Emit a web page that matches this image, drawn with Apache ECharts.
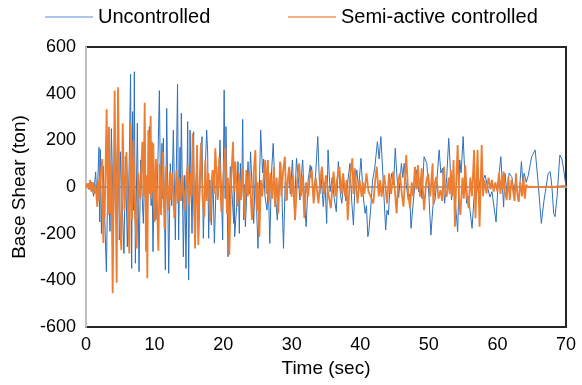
<!DOCTYPE html>
<html>
<head>
<meta charset="utf-8">
<script src="https://cdn.jsdelivr.net/npm/echarts@6/dist/echarts.min.js"></script>
<style>
  html, body { margin: 0; padding: 0; background: #fff; }
  #chart { width: 582px; height: 385px; }
</style>
</head>
<body>
<div id="chart"></div>
<script>
// time (sec) and base shear (ton)
const uncontrolledTime = [
  0, 0.3, 0.5, 0.8, 1.1, 1.41, 1.6, 1.9, 2.0, 2.1, 2.25, 2.5, 2.97, 3.2, 3.5, 3.7, 4.0, 4.3, 4.6, 4.75,
  4.86, 5.0, 5.25, 5.54, 5.74, 6.03, 6.3, 6.5, 6.66, 6.8, 6.92, 7.05, 7.2, 7.49, 7.73, 7.97, 8.36, 8.6, 8.9, 9.24,
  9.5, 9.62, 9.77, 9.95, 10.2, 10.45, 10.7, 10.9, 11.08, 11.2, 11.28, 11.4, 11.57, 11.77, 12.06, 12.3, 12.5, 12.74, 13.03, 13.35,
  13.51, 13.71, 13.8, 13.9, 14.2, 14.4, 14.58, 14.83, 14.97, 15.17, 15.46, 15.7, 15.8, 16.1, 16.4, 16.7, 16.92, 17.11, 17.35, 17.6,
  17.74, 17.89, 18.05, 18.28, 18.5, 18.72, 19.05, 19.3, 19.54, 19.93, 20.15, 20.3, 20.42, 20.71, 21.05, 21.3, 21.54, 21.62, 21.68, 21.97,
  22.17, 22.36, 22.51, 22.7, 22.85, 23.0, 23.12, 23.24, 23.63, 23.8, 24.0, 24.45, 24.7, 25.08, 25.47, 25.75, 25.9, 26.1, 26.4, 26.6,
  26.8, 27.05, 27.3, 27.6, 27.9, 28.2, 28.4, 28.6, 28.8, 29.05, 29.3, 29.55, 29.8, 30.1, 30.4, 30.7, 31.0, 31.2, 31.4, 31.6,
  31.85, 32.1, 32.4, 32.7, 32.8, 32.9, 33.2, 33.5, 33.8, 34.1, 34.3, 34.6, 34.85, 35.1, 35.3, 35.6, 35.9, 36.2, 36.5, 36.8,
  37.1, 37.3, 37.6, 37.9, 38.2, 38.5, 38.75, 39.0, 39.25, 39.5, 39.75, 40.1, 40.4, 40.7, 40.9, 41.1, 41.25, 41.5, 41.8, 42.1,
  42.5, 42.75, 43.0, 43.3, 43.7, 43.9, 44.1, 44.35, 44.6, 44.85, 45.1, 45.35, 45.6, 45.8, 46.0, 46.2, 46.4, 46.7, 47.0, 47.2,
  47.4, 47.8, 48.2, 48.5, 48.8, 49.0, 49.3, 49.7, 50.0, 50.3, 50.6, 50.9, 51.2, 51.5, 51.75, 52.0, 52.3, 52.6, 52.9, 53.1,
  53.3, 53.6, 53.9, 54.2, 54.5, 54.7, 55.0, 55.25, 55.5, 55.8, 56.0, 56.3, 56.6, 56.9, 57.2, 57.6, 57.9, 58.2, 58.55, 58.9,
  59.2, 59.8, 60.1, 60.5, 60.9, 61.1, 61.4, 61.7, 62.1, 62.4, 62.7, 63.1, 63.5, 63.7, 63.9, 64.2, 64.5, 64.8, 65.0, 65.5,
  65.9, 66.2, 66.4, 66.6, 66.8, 67.1, 67.4, 67.7, 67.95, 68.2, 68.4, 68.7, 69.1, 69.4, 69.6, 70
];
const uncontrolledShear = [
  0, 15, -10, 20, -40, 65, -60, 170, -150, 160, -200, 90, -363, 60, -190, 250, -150, 200, -100, 120,
  -227, 151, -50, -285, 130, -256, 100, 484, -349, 323, -100, 494, -327, 273, -363, 116, -156, 120, -200, 259,
  -80, 90, -277, 40, -140, 60, 413, -100, 187, -50, 209, -10, -355, 337, -370, 100, -80, 244, -227, 440,
  -227, 170, -50, 316, -299, 50, -349, 280, -399, 244, -199, 237, -127, 60, -220, 80, 216, -220, 50, 244,
  150, -220, 30, -163, 60, -241, 86, -40, 201, -227, 416, -50, 259, -299, 87, -30, -156, 20, -213, -84,
  109, -199, 101, -40, 290, -141, 10, -170, 109, -30, 151, -156, 60, -263, 244, 60, 120, -40, -99, 10,
  -242, 60, 187, -30, -142, 40, 100, -60, -263, 20, -56, 80, -30, 116, -90, 123, 20, -56, 40, 116,
  -50, -170, 30, 94, 40, 87, -50, 60, 216, -30, 40, -84, 20, -156, 159, -20, 40, -50, -106, 109,
  -30, -70, 20, -60, 30, 101, -60, -163, 20, 73, -10, 123, -30, -113, -80, -213, -190, -100, 30, 80,
  194, 120, 216, 50, -184, -100, -120, 10, 59, 10, 166, 40, -45, 30, 101, 40, 101, 10, -56, -30,
  -177, -40, 73, -20, 40, -50, 130, 101, -30, -206, -80, -56, 40, 159, 60, 80, -70, 40, 209, 100,
  -56, 30, -80, -191, 116, 60, 216, 50, -70, -40, -100, -177, -40, 30, -20, 50, 30, 51, 0, -43,
  -20, -150, 20, 130, -86, 59, -30, 60, 44, -20, 30, -64, 109, 20, 59, 20, 50, 100, 130, 159,
  30, -80, -156, -150, -56, 0, 59, 66, 0, -113, -127, -40, 137, 120, 87, 0
];

const controlledTime = [
  0, 0.2, 0.4, 0.6, 0.78, 1.0, 1.2, 1.4, 1.65, 1.8, 1.9, 2.1, 2.38, 2.53, 2.62, 2.72, 3.01, 3.2, 3.35, 3.5,
  3.7, 3.89, 4.18, 4.47, 4.67, 4.9, 5.15, 5.35, 5.6, 5.9, 6.32, 6.51, 6.7, 6.9, 7.1, 7.39, 7.6, 7.9, 8.22, 8.4,
  8.56, 8.75, 8.85, 8.94, 9.09, 9.25, 9.43, 9.52, 9.62, 9.72, 9.82, 10.0, 10.2, 10.35, 10.55, 10.75, 10.95, 11.2, 11.45, 11.7,
  11.95, 12.25, 12.35, 12.6, 12.88, 13.22, 13.37, 13.6, 13.85, 14.1, 14.34, 14.6, 14.83, 15.05, 15.26, 15.4, 15.56, 15.9, 16.19, 16.38,
  16.6, 16.77, 17.0, 17.26, 17.4, 17.6, 17.85, 18.13, 18.3, 18.47, 18.65, 18.86, 19.2, 19.44, 19.74, 20.0, 20.32, 20.56, 20.7, 20.9,
  21.15, 21.44, 21.6, 21.78, 22.07, 22.3, 22.6, 22.85, 23.14, 23.38, 23.6, 23.82, 24.0, 24.2, 24.45, 24.7, 24.89, 25.05, 25.28, 25.5,
  25.7, 25.9, 26.15, 26.35, 26.54, 26.64, 26.9, 27.15, 27.4, 27.57, 27.8, 28.05, 28.3, 28.5, 28.75, 29.0, 29.2, 29.45, 29.65, 29.99,
  30.2, 30.48, 30.8, 31.1, 31.35, 31.6, 31.84, 32.1, 32.4, 32.65, 32.9, 33.2, 33.5, 33.9, 34.15, 34.4, 34.7, 35.0, 35.3, 35.7,
  36.1, 36.4, 36.6, 36.95, 37.25, 37.5, 37.8, 38.0, 38.16, 38.5, 38.84, 39.0, 39.2, 39.6, 39.9, 40.2, 40.4, 40.6, 40.9, 41.2,
  41.5, 41.9, 42.15, 42.4, 42.7, 42.9, 43.1, 43.5, 43.9, 44.2, 44.5, 44.8, 45.05, 45.3, 45.55, 45.8, 46.05, 46.3, 46.7, 47.0,
  47.25, 47.5, 47.7, 47.97, 48.2, 48.4, 48.7, 48.95, 49.3, 49.6, 49.9, 50.2, 50.55, 50.65, 50.9, 51.1, 51.4, 51.7, 51.95, 52.2,
  52.4, 52.6, 52.9, 53.05, 53.2, 53.4, 53.6, 53.8, 54.0, 54.2, 54.4, 54.6, 54.9, 55.1, 55.3, 55.55, 55.8, 56.05, 56.3, 56.6,
  56.8, 57.1, 57.4, 57.7, 57.9, 58.1, 58.4, 58.7, 59.0, 59.2, 59.45, 59.7, 60.0, 60.2, 60.45, 60.65, 60.78, 60.9, 61.1, 61.35,
  61.6, 61.8, 62.05, 62.3, 62.5, 62.7, 62.9, 63.1, 63.35, 63.6, 63.8, 64.0, 64.2, 64.4, 65, 66, 67, 68, 69, 70
];
const controlledShear = [
  0, 15, -10, 30, -20, 20, -30, 10, -85, 30, -60, 40, 120, -240, -20, -130, 333, -120, 258, -113,
  100, -455, 413, -410, 427, -100, -270, 273, -100, 150, -285, 273, -141, 200, -80, -263, 60, -50, 194, -40,
  361, -277, 50, -391, 244, -30, 304, -50, 194, -20, 187, -150, 120, -60, -273, 100, -120, 150, -180, 90,
  -100, 66, -56, 60, -134, 73, -70, 40, -60, 50, -99, 20, 94, -80, 59, -40, 230, -263, 180, -249,
  50, 190, -50, -127, 116, -60, 60, -149, 20, 73, -30, 166, -56, 130, -106, 30, 170, -113, 40, -291,
  20, 194, -20, 109, -84, 60, -56, 80, -134, 73, -40, 66, -30, -141, 60, 158, -99, 20, -213, 30,
  -40, 37, 116, -30, 116, -70, 60, -50, 87, -86, 40, -113, 109, -40, 70, 130, -60, 40, 87, -42,
  50, -142, 30, 101, -40, 50, -134, 20, -40, 50, 73, -70, 40, -70, 20, 87, -30, 50, -20, -91,
  66, -40, 30, 87, -30, 59, -40, 30, -142, 40, 123, -30, 80, -70, 30, -42, 20, -30, 59, -20,
  -40, -70, 20, 87, -40, 30, -42, 51, -70, 59, -30, 66, -20, -113, 30, 59, -30, -84, 137, -30,
  -91, 20, -40, 87, -10, 94, -42, 80, -99, 20, 59, -40, 101, -77, 20, 44, -50, -13, -60, 87,
  -20, -42, 40, -30, 73, -40, 116, -170, 30, 180, -50, -120, 40, -50, 94, -30, -91, 40, -40, 159,
  -134, 159, -170, 180, -40, 30, -27, 40, -10, 30, -20, 20, -20, 59, -30, 51, -10, 66, -20, -56,
  44, -56, 30, -20, -60, 59, -30, -63, 20, -40, 44, -50, 10, 0, 2, -2, 2, 0, 3, 5
];

const xTicks = { min: 0, max: 70, interval: 10 };
const yTicks = { min: -600, max: 600, interval: 200 };

const zip = (xs, ys) => xs.map((x, i) => [x, ys[i]]);

const FONT = "Liberation Sans";
const TEXT_COLOR = "#000";

const chart = echarts.init(document.getElementById("chart"), null, { renderer: "canvas" });

chart.setOption({
  animation: false,
  textStyle: { fontFamily: FONT },
  grid: {
    left: 86,
    right: 16,
    top: 47,
    bottom: 58,
    show: true,
    borderColor: "#262626",
    borderWidth: 2,
  },
  legend: [
    {
      left: 40,
      top: 2,
      icon: "rect",
      itemWidth: 48,
      itemHeight: 2,
      textStyle: { fontSize: 20, color: TEXT_COLOR, fontFamily: FONT },
      data: [{ name: "Uncontrolled", itemStyle: { color: "#a9c6e8" } }],
    },
    {
      left: 283,
      top: 2,
      icon: "rect",
      itemWidth: 48,
      itemHeight: 2,
      textStyle: { fontSize: 20, color: TEXT_COLOR, fontFamily: FONT },
      data: [{ name: "Semi-active controlled", itemStyle: { color: "#f4b183" } }],
    },
  ],
  xAxis: [
    {
      type: "value",
      ...xTicks,
      axisLine: { show: false, onZero: false },
      axisTick: { show: false },
      splitLine: { show: false },
      axisLabel: { fontSize: 18, color: TEXT_COLOR, margin: 9 },
      name: "Time (sec)",
      nameLocation: "middle",
      nameGap: 31,
      nameTextStyle: { fontSize: 19, color: TEXT_COLOR },
    },
    {
      // gray line at zero shear
      type: "value",
      ...xTicks,
      position: "top",
      axisLine: { show: true, onZero: true, lineStyle: { color: "#a6a6a6", width: 2 } },
      axisTick: { show: false },
      axisLabel: { show: false },
      splitLine: { show: false },
    },
  ],
  yAxis: {
    type: "value",
    ...yTicks,
    axisLine: { show: true, onZero: false, lineStyle: { color: "#bfbfbf", width: 2 } },
    axisTick: { show: false },
    splitLine: { show: false },
    axisLabel: { fontSize: 18, color: TEXT_COLOR, margin: 10 },
    name: "Base Shear (ton)",
    nameLocation: "middle",
    nameGap: 57,
    nameTextStyle: { fontSize: 19, color: TEXT_COLOR },
  },
  series: [
    {
      name: "Uncontrolled",
      type: "line",
      xAxisIndex: 0,
      showSymbol: false,
      symbol: "none",
      lineStyle: { color: "#2f70bb", width: 1 },
      itemStyle: { color: "#2f70bb" },
      data: zip(uncontrolledTime, uncontrolledShear),
    },
    {
      name: "Semi-active controlled",
      type: "line",
      xAxisIndex: 0,
      showSymbol: false,
      symbol: "none",
      lineStyle: { color: "#ed7d31", width: 1.8 },
      itemStyle: { color: "#ed7d31" },
      data: zip(controlledTime, controlledShear),
    },
  ],
});
</script>
</body>
</html>
